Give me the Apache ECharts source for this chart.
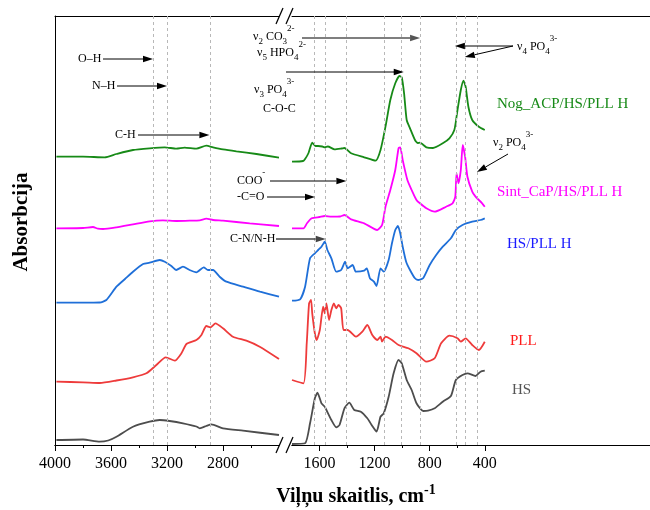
<!DOCTYPE html>
<html>
<head>
<meta charset="utf-8">
<script src="https://cdn.jsdelivr.net/npm/echarts@6/dist/echarts.min.js"></script>
<style>
  html, body { margin: 0; background: #fff; }
  #chart { width: 650px; height: 510px; }
</style>
</head>
<body>
<div id="chart"></div>
<script>
const FONT = '"Liberation Serif", "Times New Roman", serif'

// spectra: [wavenumber cm-1, absorbance (stacked, a.u.)]
const hsLeft = [[3990, 5], [3800, 5.5], [3681, 3.3], [3620, 4.5], [3561, 8.3], [3443, 18.3], [3324, 23.3], [3252, 25], [3181, 24], [3086, 21.7], [2990, 18.5], [2966, 16.7], [2920, 19], [2883, 20.7], [2800, 16.7], [2657, 14.3], [2400, 10]]
const hsRight = [[1800, 1], [1705, 1.7], [1669, 21.7], [1634, 46.7], [1615, 52.3], [1586, 41.7], [1562, 38.3], [1550, 35], [1514, 25], [1479, 17.7], [1455, 20], [1419, 36.7], [1384, 42.3], [1348, 35], [1300, 33.3], [1253, 26.7], [1217, 19], [1186, 13.3], [1157, 28.3], [1134, 31.7], [1098, 48.3], [1062, 71.7], [1026, 85], [1003, 81.7], [967, 65], [931, 55], [896, 41.7], [848, 34], [812, 34.3], [764, 36.7], [705, 43.3], [646, 49], [610, 65], [562, 70], [526, 71.7], [467, 69], [431, 73.3], [400, 74.3]]

const pllLeft = [[3990, 63.3], [3800, 62.7], [3680, 62], [3561, 64.5], [3443, 67.7], [3347, 71.7], [3276, 80], [3209, 87.7], [3144, 84.3], [3097, 91.7], [3061, 101], [2990, 105], [2954, 110], [2919, 119], [2890, 117.7], [2854, 121.7], [2800, 116.7], [2729, 108.3], [2633, 104.3], [2538, 98.3], [2400, 86]]
const pllRight = [[1800, 65], [1717, 61.7], [1693, 101.7], [1676, 141.7], [1662, 145], [1653, 131.7], [1634, 111.7], [1621, 105], [1598, 115], [1574, 138.3], [1562, 131.7], [1550, 141.7], [1531, 125], [1514, 135], [1496, 141.7], [1479, 136.7], [1462, 140], [1443, 136.7], [1426, 115], [1396, 115], [1336, 108.3], [1289, 113.3], [1253, 120], [1217, 110], [1181, 105], [1157, 108.3], [1146, 103.3], [1121, 108.3], [1074, 105], [1026, 100], [955, 96.7], [896, 91.7], [824, 83.3], [764, 86.7], [717, 101.7], [657, 109.3], [598, 106.7], [574, 103.3], [539, 106.7], [491, 100], [443, 95], [400, 103.3]]

const hsPllLeft = [[3990, 142.3], [3800, 142.3], [3681, 142.5], [3633, 145], [3561, 158.3], [3500, 166], [3443, 173.3], [3371, 181], [3324, 182.3], [3252, 185], [3216, 183.3], [3169, 179], [3134, 175], [3086, 178.3], [3039, 175], [2990, 172.7], [2938, 177.7], [2907, 175], [2871, 175], [2824, 168.3], [2776, 163.3], [2657, 158.3], [2536, 153.3], [2400, 148.3]]
const hsPllRight = [[1800, 144.3], [1741, 145.7], [1705, 158.3], [1669, 186.7], [1634, 191.7], [1610, 195], [1586, 198.3], [1562, 203.3], [1543, 195], [1514, 186.7], [1479, 173.3], [1443, 175], [1414, 183.3], [1396, 176.7], [1360, 180], [1336, 173.3], [1276, 174.3], [1257, 176.7], [1234, 166.7], [1205, 163.3], [1186, 159], [1157, 176.7], [1134, 173.3], [1098, 185], [1074, 201.7], [1050, 215], [1031, 219], [1014, 211.7], [996, 198.3], [971, 183.3], [943, 175], [907, 166.7], [884, 165], [848, 166.7], [800, 180], [753, 190], [705, 198.3], [646, 206.7], [610, 215], [562, 220], [491, 223.3], [431, 225], [400, 226.7]]

const sintLeft = [[3990, 216.7], [3800, 217], [3729, 218], [3693, 216.3], [3657, 216], [3561, 217.7], [3443, 220.7], [3324, 223.7], [3229, 224.7], [3133, 224], [3038, 224.3], [2966, 224.7], [2919, 226.3], [2871, 225], [2800, 224.3], [2609, 221.7], [2400, 219]]
const sintRight = [[1800, 216.7], [1717, 216.7], [1690, 222], [1657, 226.7], [1600, 228], [1562, 229], [1514, 228.3], [1450, 228.5], [1419, 230], [1371, 225.7], [1276, 221.7], [1181, 215], [1146, 220], [1121, 238.3], [1086, 255], [1050, 275], [1026, 296.7], [1014, 297.7], [996, 285], [962, 265], [931, 255], [896, 245], [871, 241.7], [824, 236.7], [764, 233.3], [681, 238.3], [634, 241.7], [614, 248.3], [605, 271.7], [591, 261.7], [574, 275], [560, 300], [543, 288.3], [526, 268.3], [491, 253.3], [467, 248.3], [419, 241.7], [400, 238.3]]

const nogLeft = [[3990, 288.3], [3800, 288.3], [3645, 287.7], [3561, 291], [3443, 295], [3324, 296.7], [3216, 297.7], [3133, 296.3], [3074, 297.3], [2990, 296.3], [2919, 299.3], [2871, 297.7], [2800, 295.7], [2704, 293.7], [2561, 291], [2400, 287.3]]
const nogRight = [[1800, 283.3], [1720, 284], [1705, 286], [1680, 292], [1653, 302.3], [1630, 299], [1610, 299], [1580, 298.5], [1562, 297.7], [1540, 298.5], [1491, 295.7], [1440, 296.5], [1419, 297], [1371, 291.7], [1276, 287.7], [1193, 284.3], [1157, 295], [1121, 318.3], [1086, 345], [1050, 361.7], [1019, 369], [1003, 367.7], [986, 351.7], [967, 325], [943, 316.7], [907, 305], [885, 302], [871, 302.3], [824, 297.7], [776, 297], [705, 301.7], [657, 306.7], [621, 315], [598, 335], [574, 355], [555, 364.3], [539, 358.3], [519, 338.3], [491, 325], [443, 318.3], [400, 315]]

// band positions (dotted guides) and axis ticks
const bandsLeft = [3300, 3200, 2890]
const bandsRight = [1640, 1555, 1405, 1130, 1010, 870, 610, 545, 457]
const ticksLeft = [4000, 3600, 3200, 2800]
const minorLeft = [3800, 3400, 3000, 2600]
const ticksRight = [1600, 1200, 800, 400]
const minorRight = [1400, 1000, 600]

const spectra = [
  { name: 'HS', color: '#4d4d4d', left: hsLeft, right: hsRight },
  { name: 'PLL', color: '#ee3b3b', left: pllLeft, right: pllRight },
  { name: 'HS/PLL H', color: '#1f6fd8', left: hsPllLeft, right: hsPllRight },
  { name: 'Sint_CaP/HS/PLL H', color: '#ff00ff', left: sintLeft, right: sintRight },
  { name: 'Nog_ACP/HS/PLL H', color: '#178a17', left: nogLeft, right: nogRight }
]

const guideLine = bands => ({
  silent: true,
  symbol: ['none', 'none'],
  label: { show: false },
  lineStyle: { type: [3, 3], color: '#b8b8b8', width: 1 },
  data: bands.map(v => ({ xAxis: v }))
})

const series = []
spectra.forEach((s, i) => {
  const common = {
    type: 'line',
    name: s.name,
    showSymbol: false,
    smooth: 0.2,
    silent: true,
    color: s.color,
    lineStyle: { width: 1.8, color: s.color }
  }
  series.push(Object.assign({}, common, {
    xAxisIndex: 0, yAxisIndex: 0, data: s.left,
    markLine: i === 0 ? guideLine(bandsLeft) : undefined
  }))
  series.push(Object.assign({}, common, {
    xAxisIndex: 3, yAxisIndex: 1, data: s.right,
    markLine: i === 0 ? guideLine(bandsRight) : undefined
  }))
})

const mainAxis = (grid, min, max, ticks) => ({
  type: 'value', gridIndex: grid, position: 'bottom', min, max, interval: 400, inverse: true,
  axisLine: { show: true, onZero: false, lineStyle: { color: '#000', width: 1 } },
  axisTick: { show: true, customValues: ticks, length: 6, lineStyle: { color: '#000' } },
  axisLabel: {
    show: true, customValues: ticks, formatter: v => String(v),
    fontFamily: FONT, fontSize: 16, color: '#000', margin: 11
  },
  splitLine: { show: false }
})
// second bottom axis, only for the short in-between ticks
const minorAxis = (grid, min, max, ticks) => ({
  type: 'value', gridIndex: grid, position: 'bottom', min, max, interval: 400, inverse: true,
  axisLine: { show: true, onZero: false, lineStyle: { color: '#000', width: 1 } },
  axisTick: { show: true, customValues: ticks, length: 3, lineStyle: { color: '#000', width: 1 } },
  axisLabel: { show: true, customValues: ticks, formatter: () => '' },
  splitLine: { show: false }
})
const topAxis = (grid, min, max) => ({
  type: 'value', gridIndex: grid, position: 'top', min, max, inverse: true,
  axisLine: { show: true, onZero: false, lineStyle: { color: '#000', width: 1 } },
  axisTick: { show: false }, axisLabel: { show: false }, splitLine: { show: false }
})

const chart = echarts.init(document.getElementById('chart'))
chart.setOption({
  animation: false,
  backgroundColor: '#fff',
  grid: [
    { left: 55, top: 16, width: 224, height: 429 },
    { left: 292, top: 16, width: 364, height: 429 }
  ],
  xAxis: [
    mainAxis(0, 2400, 4000, ticksLeft),
    minorAxis(0, 2400, 4000, minorLeft),
    topAxis(0, 2400, 4000),
    mainAxis(1, -800, 1800, ticksRight),
    minorAxis(1, -800, 1800, minorRight),
    topAxis(1, -800, 1800)
  ],
  yAxis: [
    { type: 'value', gridIndex: 0, min: 0, max: 429,
      axisLine: { show: true, lineStyle: { color: '#000', width: 1 } },
      axisTick: { show: false }, axisLabel: { show: false }, splitLine: { show: false } },
    { type: 'value', gridIndex: 1, min: 0, max: 429, show: false }
  ],
  series
})

// annotations
const ctx = document.createElement('canvas').getContext('2d')
const textWidth = (s, font) => { ctx.font = font; return ctx.measureText(s).width }
const fontOf = (size, bold) => (bold ? 'bold ' : '') + size + 'px ' + FONT

const xL = v => chart.convertToPixel({ xAxisIndex: 0 }, v)
const xR = v => chart.convertToPixel({ xAxisIndex: 3 }, v)

function text (x, y, s, size, color, align, bold) {
  return {
    type: 'text', x, y, silent: true, z: 100,
    style: {
      text: s, font: fontOf(size, bold), fill: color || '#000',
      textAlign: align || 'left', textVerticalAlign: 'middle',
      align: align || 'left', verticalAlign: 'middle'
    }
  }
}

// parts: [string, kind] where kind n = normal, b = subscript, p = superscript
function chem (x, y, parts, size, color, bold, supShift) {
  const els = []
  let cx = x
  parts.forEach(([s, kind]) => {
    const sz = kind === 'n' ? size : Math.round(size * 0.72)
    const dy = kind === 'b' ? size * 0.42 : kind === 'p' ? -(supShift || size * 0.72) : 0
    els.push(text(cx, y + dy, s, sz, color, 'left', bold))
    cx += textWidth(s, fontOf(sz, bold))
  })
  return els
}

function arrow (x1, y1, x2, y2, color, width) {
  color = color || '#000'
  const a = Math.atan2(y2 - y1, x2 - x1)
  const len = 10
  const half = 3.2
  const bx = x2 - len * Math.cos(a)
  const by = y2 - len * Math.sin(a)
  const px = -Math.sin(a) * half
  const py = Math.cos(a) * half
  return [
    { type: 'line', silent: true, z: 100, shape: { x1, y1, x2: bx, y2: by }, style: { stroke: color, lineWidth: width || 1 } },
    { type: 'polygon', silent: true, z: 100, shape: { points: [[x2, y2], [bx + px, by + py], [bx - px, by - py]] }, style: { fill: color } }
  ]
}

function slash (x, y) {
  return { type: 'line', silent: true, z: 100, shape: { x1: x, y1: y + 8, x2: x + 7, y2: y - 8 }, style: { stroke: '#000', lineWidth: 1.2 } }
}

const S = 12
let g = []
g.push(text(78, 59, 'O–H', S))
g = g.concat(arrow(103, 59, xL(3300), 59))
g.push(text(92, 86, 'N–H', S))
g = g.concat(arrow(117, 86, xL(3200), 86))
g.push(text(115, 135, 'C-H', S))
g = g.concat(arrow(138, 135, xL(2890) - 1, 135))

g = g.concat(chem(253, 37, [['ν', 'n'], ['2', 'b'], [' CO', 'n'], ['3', 'b'], ['2-', 'p']], S))
g = g.concat(chem(257, 53, [['ν', 'n'], ['5', 'b'], [' HPO', 'n'], ['4', 'b'], ['2-', 'p']], S))
g = g.concat(arrow(302, 38, xR(870), 38, '#555', 1.6))
g = g.concat(chem(254, 90, [['ν', 'n'], ['3', 'b'], [' PO', 'n'], ['4', 'b'], ['3-', 'p']], S))
g.push(text(263, 109, 'C-O-C', S))
g.push({ type: 'line', silent: true, z: 100, shape: { x1: 286, y1: 72, x2: xR(1010), y2: 72 }, style: { stroke: '#000', lineWidth: 1 } })
g = g.concat(arrow(xR(1010), 72, xR(1010) + 3, 72))

g = g.concat(chem(517, 47, [['ν', 'n'], ['4', 'b'], [' PO', 'n'], ['4', 'b'], ['3-', 'p']], S))
g = g.concat(arrow(513, 46, xR(610) - 1, 46))
g = g.concat(arrow(513, 46, xR(545), 57))
g = g.concat(chem(493, 143, [['ν', 'n'], ['2', 'b'], [' PO', 'n'], ['4', 'b'], ['3-', 'p']], S))
g = g.concat(arrow(508, 154, xR(457), 172))

g = g.concat(chem(237, 181, [['COO', 'n'], ['-', 'p']], S))
g = g.concat(arrow(270, 181, xR(1405), 181))
g.push(text(237, 197, '-C=O', S))
g = g.concat(arrow(267, 197, xR(1640) + 1, 197))
g.push(text(230, 239, 'C-N/N-H', S))
g = g.concat(arrow(276, 239, xR(1555), 239, '#444', 1.5))

// series labels
g.push(text(497, 104, 'Nog_ACP/HS/PLL H', 15, '#178a17'))
g.push(text(497, 192, 'Sint_CaP/HS/PLL H', 15, '#ff00ff'))
g.push(text(507, 244, 'HS/PLL H', 15, '#1a1aff'))
g.push(text(510, 341, 'PLL', 15, '#ff1a1a'))
g.push(text(512, 390, 'HS', 15, '#555'))

// axis titles
g.push({
  type: 'text', x: 22, y: 222, rotation: Math.PI / 2, silent: true,
  style: { text: 'Absorbcija', font: fontOf(21, true), fill: '#000', textAlign: 'center', textVerticalAlign: 'middle', align: 'center', verticalAlign: 'middle' }
})
const xTitle = 'Viļņu skaitlis, cm'
const xTitleW = textWidth(xTitle, fontOf(20, true)) + textWidth('-1', fontOf(14, true))
g = g.concat(chem(356 - xTitleW / 2, 497, [[xTitle, 'n'], ['-1', 'p']], 20, '#000', true, 7))

// axis break marks
g.push(slash(276, 445), slash(286, 445), slash(276, 16), slash(286, 16))

chart.setOption({ graphic: g })
</script>
</body>
</html>
